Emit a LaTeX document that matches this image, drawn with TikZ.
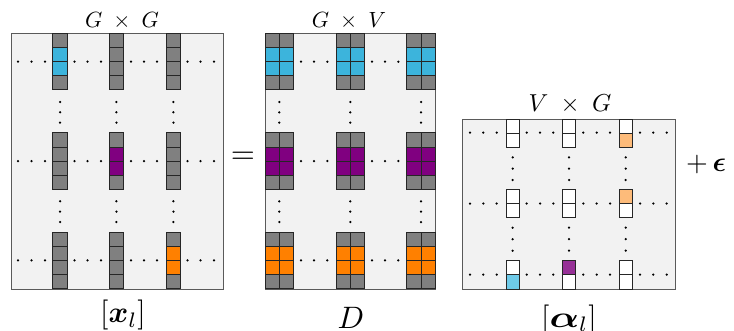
\documentclass[tikz,border=0pt]{standalone}
\usepackage{amsmath,bm}
\definecolor{bgc}{HTML}{F2F2F2}
\definecolor{cellgray}{HTML}{808080}
\definecolor{cblue}{HTML}{3CB4DC}
\definecolor{cpurple}{HTML}{800080}
\definecolor{corange}{HTML}{FF8000}
\definecolor{lblue}{HTML}{6ECAE8}
\definecolor{lpurple}{HTML}{963096}
\definecolor{lorange}{HTML}{FDBB7A}
\definecolor{framec}{HTML}{5A5A5A}
\tikzset{
  mat/.style={fill=bgc,draw=framec,line width=0.9pt},
  cell/.style={draw=black!85,line width=0.8pt},
  dotc/.style={fill=black},
  title/.style={inner sep=0pt,anchor=base},
  lab/.style={inner sep=0pt,anchor=base},
}
\newcommand{\ttl}[2][2.2]{\scalebox{#1}{$#2$}}
% column of cells: x-left, y-top, width, height, list of fills
\newcommand{\cellcol}[5]{%
  \foreach \f [count=\i from 0] in {#5} {
    \draw[cell,fill=\f] (#1,{#2+\i*#4}) rectangle ++(#3,#4);
  }}
\newcommand{\hdot}[2]{\fill[dotc] (#1,#2) circle (1.25pt);}
\begin{document}
\begin{tikzpicture}[x=1pt,y=-1pt]
\useasboundingbox (0,0) rectangle (734,330);
% ---------------- left matrix G x G
\draw[mat] (11,33) rectangle (223,289);
\foreach \gy/\row in {33/0,132.7/1,232/2}{
  \foreach \gx/\col in {52.7/0,109/1,166/2}{
    \pgfmathtruncatemacro{\hit}{(\row==\col)?1:0}
    \ifnum\hit=1
      \ifnum\row=0 \cellcol{\gx}{\gy}{14.8}{14.2}{cellgray,cblue,cblue,cellgray}\fi
      \ifnum\row=1 \cellcol{\gx}{\gy}{14.8}{14.2}{cellgray,cpurple,cpurple,cellgray}\fi
      \ifnum\row=2 \cellcol{\gx}{\gy}{14.8}{14.2}{cellgray,corange,corange,cellgray}\fi
    \else
      \cellcol{\gx}{\gy}{14.8}{14.2}{cellgray,cellgray,cellgray,cellgray}
    \fi
  }
}
\foreach \y in {61.7,161,260.3}{
  \foreach \x in {18,31.5,45,74.5,87.5,101,131,144,157,187.5,200.5,214}{\hdot{\x}{\y}}
}
\foreach \x in {60.1,116.4,173.4}{
  \foreach \y in {102,112.3,122.6,201.3,211.6,222}{\hdot{\x}{\y}}
}
\node[title] (t1) at (122,27.3) {\ttl{G\;\times\;G}};
\node[lab] (l1) at (123,322.5) {\ttl[3.0]{[\bm{x}_l]}};
% equals
\node[inner sep=0pt] (eq) at (243,158) {\ttl[3.1]{=}};
% ---------------- middle matrix G x V
\draw[mat] (265,33) rectangle (435,289);
\foreach \gy/\c in {33/cblue,132.7/cpurple,232/corange}{
  \foreach \gx in {265,336,406.7}{
    \cellcol{\gx}{\gy}{14.3}{14.2}{cellgray,\c,\c,cellgray}
    \cellcol{\gx+14.3}{\gy}{14.3}{14.2}{cellgray,\c,\c,cellgray}
  }
}
\foreach \y in {61.7,161,260.3}{
  \foreach \x in {301,314,327.3,372,385,398.3}{\hdot{\x}{\y}}
}
\foreach \x in {279.3,350.3,421}{
  \foreach \y in {102,112.3,122.6,201.3,211.6,222}{\hdot{\x}{\y}}
}
\node[title] (t2) at (349,27.3) {\ttl{G\;\times\;V}};
\node[lab] (l2) at (351,328) {\ttl[3.1]{D}};
% ---------------- right matrix V x G
\draw[mat] (462.3,119) rectangle (675,289);
\cellcol{506}{119}{13.4}{14}{white,white}
\cellcol{562.3}{119}{13.4}{14}{white,white}
\cellcol{619}{119}{13.4}{14}{white,lorange}
\cellcol{506}{189.5}{13.4}{14}{white,white}
\cellcol{562.3}{189.5}{13.4}{14}{white,white}
\cellcol{619}{189.5}{13.4}{14}{lorange,white}
\cellcol{506}{260.5}{13.4}{14.25}{white,lblue}
\cellcol{562.3}{260.5}{13.4}{14.25}{lpurple,white}
\cellcol{619}{260.5}{13.4}{14.25}{white,white}
\foreach \y in {132.6,203.5,274.6}{
  \foreach \x in {470,483.3,496.7,526.7,540,553.3,583.3,596.7,610,640,653.3,666.7}{\hdot{\x}{\y}}
}
\foreach \x in {512.7,569,625.7}{
  \foreach \y in {157.3,168.7,180,227.7,239.2,250.7}{\hdot{\x}{\y}}
}
\node[title] (t3) at (570,111.7) {\ttl[2.45]{V\;\times\;G}};
\node[lab] (l3) at (569,327) {\ttl[3.0]{[\scalebox{1.3}[1]{$\bm{\alpha}$}_l]}};
\node[inner sep=0pt,anchor=west] (eps) at (686,164) {\ttl[2.8]{+\,\bm{\epsilon}}};
\end{tikzpicture}
\end{document}
